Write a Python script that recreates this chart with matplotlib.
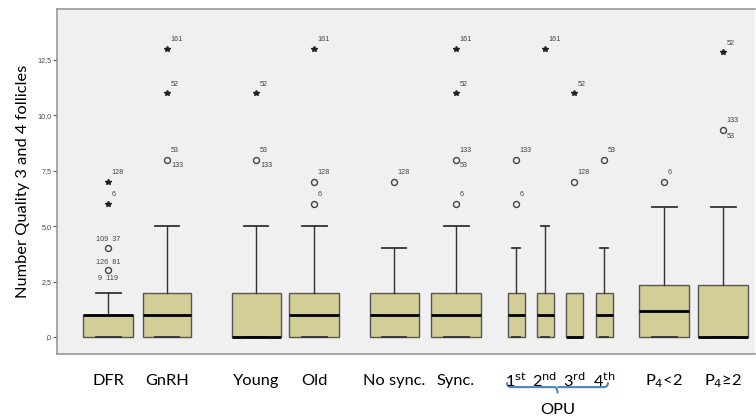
import matplotlib
matplotlib.use("Agg")
import matplotlib.pyplot as plt
from matplotlib.path import Path
from matplotlib.patches import PathPatch
import matplotlib.transforms as mtransforms


# ----------------------------
# Data
# ----------------------------

groups = ["DFR", "GnRH", "Young", "Old", "No sync.", "Sync.",
          r"1$^{\mathrm{st}}$", r"2$^{\mathrm{nd}}$", r"3$^{\mathrm{rd}}$", r"4$^{\mathrm{th}}$",
          r"P$_4$<2", r"P$_4$≥2"]

q1 = [0, 0, 0, 0, 0, 0, 0, 0, 0, 0, 0, 0]
median = [1, 1, 0, 1, 1, 1, 1, 1, 0, 1, 1.18, 0]
q3 = [1, 2, 2, 2, 2, 2, 2, 2, 2, 2, 2.35, 2.35]
whisker_lo = [0, 0, 0, 0, 0, 0, 0, 0, 0, 0, 0, 0]
whisker_hi = [2, 5, 5, 5, 4, 5, 4, 5, 2, 4, 5.85, 5.85]

# outliers (o) and extremes (*)
circles = [[4, 3], [8], [8], [7, 6], [7], [8, 6], [8, 6], [], [7], [8], [7], [9.35]]
stars = [[7, 6], [13, 11], [11], [13], [], [13, 11], [], [13], [11], [], [], [12.85]]

# case numbers next to the outliers: (value, text, side)
case_labels = [
    [(4, "109  37", "top"), (3, "126  81", "top"), (3, "9  119", "bottom"),
     (7, "128", "ur"), (6, "6", "ur")],
    [(13, "161", "ur"), (11, "52", "ur"), (8, "53", "ur"), (8, "133", "lr")],
    [(11, "52", "ur"), (8, "53", "ur"), (8, "133", "lr")],
    [(13, "161", "ur"), (7, "128", "ur"), (6, "6", "ur")],
    [(7, "128", "ur")],
    [(13, "161", "ur"), (11, "52", "ur"), (8, "133", "ur"), (8, "53", "lr"), (6, "6", "ur")],
    [(8, "133", "ur"), (6, "6", "ur")],
    [(13, "161", "ur")],
    [(11, "52", "ur"), (7, "128", "ur")],
    [(8, "53", "ur")],
    [(7, "6", "ur")],
    [(12.85, "52", "ur"), (9.35, "133", "ur"), (9.35, "53", "lr")],
]

y_ticks = [0, 2.5, 5, 7.5, 10, 12.5]
y_tick_labels = [",0", "2,5", "5,0", "7,5", "10,0", "12,5"]

# ----------------------------
# Layout
# ----------------------------

positions = [108, 167, 256, 314, 394, 456, 516, 545, 574, 604, 664, 723]
widths = [50, 48, 49, 50, 49, 50, 17, 17, 17, 17, 50, 50]

BOX_COLOR = "#D3CE98"
EDGE = "#555555"
TXT = "#444444"

fig = plt.figure(figsize=(7.56, 4.2), dpi=100)
ax = fig.add_axes([57 / 756, 66 / 420, 698 / 756, 345 / 420])
ax.set_facecolor("#F0F0F0")

stats = []
for i in range(len(groups)):
    stats.append(dict(med=median[i], q1=q1[i], q3=q3[i],
                      whislo=whisker_lo[i], whishi=whisker_hi[i], fliers=[]))

# no cap where the whisker has zero length
capw = [w * 0.5 if hi > top else 0 for w, hi, top in zip(widths, whisker_hi, q3)]

ax.bxp(stats, positions=positions, widths=widths, patch_artist=True,
       showfliers=False, manage_ticks=False,
       boxprops=dict(facecolor=BOX_COLOR, edgecolor=EDGE, linewidth=1.0),
       medianprops=dict(color="black", linewidth=2.0),
       whiskerprops=dict(color="#333333", linewidth=1.0),
       capprops=dict(color="#333333", linewidth=1.3),
       capwidths=capw)

for i, x in enumerate(positions):
    if circles[i]:
        ax.plot([x] * len(circles[i]), circles[i], "o", ms=4.3, mfc="none",
                mec="#444444", mew=1.0, ls="none")
    if stars[i]:
        ax.plot([x] * len(stars[i]), stars[i], "*", ms=4.3, color="#222222", ls="none")
    for val, txt, side in case_labels[i]:
        if side == "ur":
            off, ha, va = (2.5, 4), "left", "bottom"
        elif side == "lr":
            off, ha, va = (3, -2), "left", "top"
        elif side == "top":
            off, ha, va = (0, 3.5), "center", "bottom"
        else:
            off, ha, va = (0, -3), "center", "top"
        ax.annotate(txt, (x, val), xytext=off, textcoords="offset points",
                    ha=ha, va=va, fontsize=5.2, color=TXT, family="Liberation Sans")

ax.set_xlim(57, 755)
ax.set_ylim(-0.77, 14.8)
ax.set_yticks(y_ticks)
ax.set_yticklabels(y_tick_labels, fontsize=5.2, color=TXT, family="Liberation Sans")
ax.tick_params(axis="y", length=3, width=0.8, color="#555555", pad=1)
ax.set_xticks([])
for s in ax.spines.values():
    s.set_color("#999999")
    s.set_linewidth(1.2)
ax.spines["right"].set_visible(False)

ax.set_ylabel("Number Quality 3 and 4 follicles", fontsize=11.8,
              family="Lato", labelpad=5)

# category names under the axis
trans = mtransforms.blended_transform_factory(ax.transData, ax.transAxes)
for x, name in zip(positions, groups):
    ax.text(x, -0.078, name, transform=trans, ha="center", va="center",
            fontsize=11.8, family="Lato")

# ----------------------------
# OPU brace
# ----------------------------
x0, x1 = positions[6] - 9, positions[9] + 4
xm = (x0 + x1) / 2
yb, yc, yn = -0.096, -0.082, -0.114
verts = [(x0, yc), (x0, yb), (x0 + 4, yb), (xm - 3, yb), (xm, yb), (xm, yn),
         (xm, yb), (xm + 3, yb), (x1 - 4, yb), (x1, yb), (x1, yc)]
codes = [Path.MOVETO, Path.CURVE3, Path.CURVE3, Path.LINETO, Path.CURVE3, Path.CURVE3,
         Path.MOVETO, Path.LINETO, Path.LINETO, Path.CURVE3, Path.CURVE3]
brace = PathPatch(Path(verts, codes), transform=trans, fill=False,
                  edgecolor="#4F81BD", linewidth=1.5, clip_on=False)
ax.add_patch(brace)
ax.text(xm, -0.162, "OPU", transform=trans, ha="center", va="center",
        fontsize=11.8, family="Lato")

fig.savefig("out.png", dpi=100)
